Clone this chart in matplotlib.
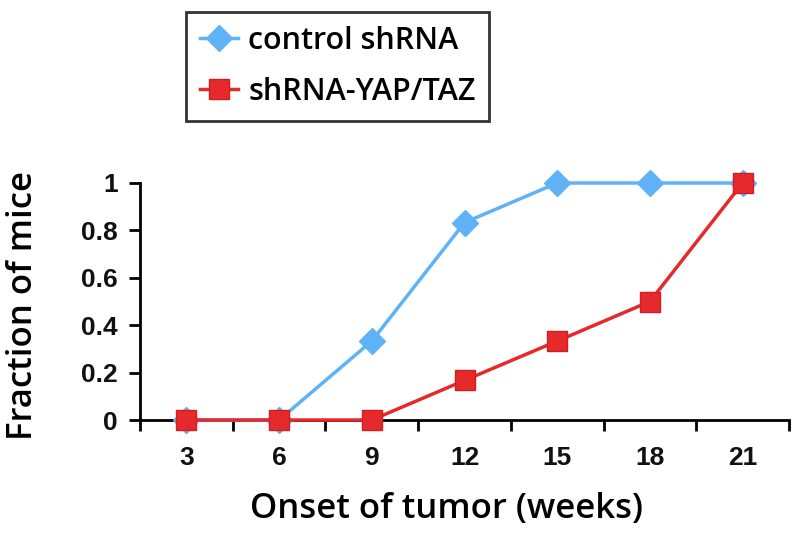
import numpy as np
import matplotlib
matplotlib.use('Agg')
import matplotlib.pyplot as plt

# datos
weeks = ['3', '6', '9', '12', '15', '18', '21']
control = [0, 0, 0.333, 0.833, 1, 1, 1]
yap_taz = [0, 0, 0, 0.167, 0.333, 0.5, 1]
y_ticks = [0, 0.2, 0.4, 0.6, 0.8, 1]
y_tick_labels = ['0', '0.2', '0.4', '0.6', '0.8', '1']

blue = '#5fb2f5'
red = '#e62a2c'

fig = plt.figure(figsize=(8, 5.35), dpi=100)
ax = fig.add_axes([140/800, 1 - 420/535, (789 - 140)/800, (420 - 183)/535])

x = np.arange(len(weeks))
ax.plot(x, control, color=blue, lw=2.5, marker='D', markersize=13,
        markeredgecolor=blue, label='control shRNA', clip_on=False, zorder=3)
ax.plot(x, yap_taz, color=red, lw=2.5, marker='s', markersize=14,
        markeredgecolor='#d01f22', label='shRNA-YAP/TAZ', clip_on=False, zorder=4)

ax.set_xlim(-0.5, len(weeks) - 0.5)
ax.set_ylim(0, 1)

# eje de categorias: marcas entre categorias
ax.set_xticks(x)
ax.set_xticklabels(weeks)
ax.set_xticks(np.arange(-0.5, len(weeks)), minor=True)
ax.tick_params(axis='x', which='major', length=0, pad=19)
ax.tick_params(axis='x', which='minor', length=8, width=2, direction='out')
ax.set_yticks(y_ticks)
ax.set_yticklabels(y_tick_labels)
ax.tick_params(axis='y', length=8, width=2, direction='out', pad=8)

for lbl in ax.get_xticklabels() + ax.get_yticklabels():
    lbl.set_family('Liberation Sans')
    lbl.set_fontsize(19)
    lbl.set_fontweight('bold')
    lbl.set_color('#111111')

for side in ['top', 'right']:
    ax.spines[side].set_visible(False)
for side in ['left', 'bottom']:
    ax.spines[side].set_linewidth(2)

fig.text(447/800, 1 - 509/535, 'Onset of tumor (weeks)', family='Open Sans',
         fontsize=25, fontweight='semibold', ha='center', va='center')
fig.text(23/800, 1 - 305/535, 'Fraction of mice', family='Open Sans',
         fontsize=25, fontweight='semibold', ha='center', va='center', rotation=90)

leg = fig.legend(loc='upper left', bbox_to_anchor=(186/800, 1 - 12/535),
                 prop={'family': 'Open Sans', 'size': 22, 'weight': 'semibold'},
                 frameon=True, fancybox=False, edgecolor='black',
                 handlelength=1.25, handletextpad=0.33, borderpad=0.45,
                 labelspacing=0.7, borderaxespad=0)
leg.get_frame().set_linewidth(2)

fig.savefig('out.png', dpi=100)
